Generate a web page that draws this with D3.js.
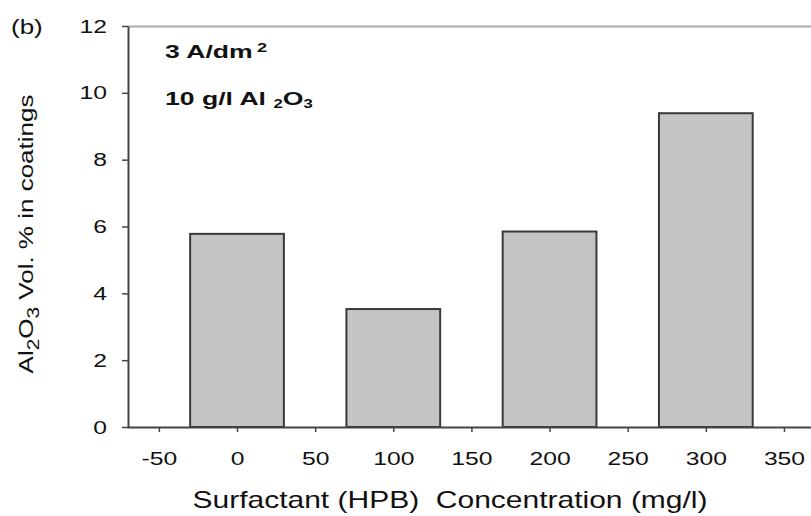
<!DOCTYPE html>
<html>
<head>
<meta charset="utf-8">
<script src="https://cdn.jsdelivr.net/npm/d3@7/dist/d3.min.js"></script>
<style>
  html, body { margin: 0; padding: 0; background: #fff; }
  svg { display: block; }
</style>
</head>
<body>
<div id="chart"></div>
<script>
  var concentrations = [0, 100, 200, 300];
  var volumePercent = [5.78, 3.53, 5.85, 9.39];
  var xTicks = [-50, 0, 50, 100, 150, 200, 250, 300, 350];
  var yTicks = [0, 2, 4, 6, 8, 10, 12];
  var barWidthUnits = 60;

  var width = 811;
  var height = 516;
  var margin = { top: 26, right: 0, bottom: 89, left: 128 };

  // the original figure's lettering is wide; stretch glyphs along the baseline
  var stretch = 1.3;
  var font = 'Liberation Sans, Arial, sans-serif';

  var x = d3.scaleLinear()
      .domain([-70.4, 367.3])
      .range([margin.left - 1, width - margin.right]);

  var y = d3.scaleLinear()
      .domain([0, 12])
      .range([height - margin.bottom, margin.top]);

  var svg = d3.select('#chart').append('svg')
      .attr('width', width)
      .attr('height', height);

  // top frame line (light gray)
  svg.append('line')
      .attr('x1', margin.left)
      .attr('x2', width)
      .attr('y1', y(12) + 0.5)
      .attr('y2', y(12) + 0.5)
      .style('stroke', '#aaa')
      .style('stroke-width', 2);

  // bars
  svg.append('g').selectAll('rect')
      .data(concentrations)
    .enter().append('rect')
      .attr('x', function (d) { return x(d - barWidthUnits / 2); })
      .attr('width', function (d) { return x(d + barWidthUnits / 2) - x(d - barWidthUnits / 2); })
      .attr('y', function (d, i) { return y(volumePercent[i]); })
      .attr('height', function (d, i) { return y(0) - y(volumePercent[i]); })
      .style('fill', '#c4c4c4')
      .style('stroke', '#3a3a3a')
      .style('stroke-width', 2);

  var xAxis = svg.append('g')
      .attr('transform', 'translate(0,' + y(0) + ')')
      .call(d3.axisBottom(x)
        .tickValues(xTicks)
        .tickFormat(function (d) { return String(d); })
        .tickSize(5)
        .tickSizeOuter(0));

  xAxis.select('path')
      .style('stroke', '#444')
      .style('stroke-width', 2);
  xAxis.selectAll('g line')
      .style('stroke', '#444')
      .style('stroke-width', 1.5);
  xAxis.selectAll('g text')
      .attr('y', null)
      .attr('dy', null)
      .attr('transform', 'translate(0,38) scale(' + stretch + ',1)')
      .style('font', '19px ' + font)
      .style('fill', '#111');

  var yAxis = svg.append('g')
      .attr('transform', 'translate(' + margin.left + ',0)')
      .call(d3.axisLeft(y).tickValues(yTicks).tickSize(6).tickSizeOuter(0));

  yAxis.select('path')
      .style('stroke', '#444')
      .style('stroke-width', 2);
  yAxis.selectAll('g line')
      .style('stroke', '#444')
      .style('stroke-width', 1.5);
  yAxis.selectAll('g text')
      .attr('x', null)
      .attr('transform', 'translate(-21,0) scale(' + stretch + ',1)')
      .style('font', '19px ' + font)
      .style('fill', '#111');

  // panel letter
  svg.append('text')
      .attr('transform', 'translate(11,34) scale(' + stretch + ',1)')
      .style('font', '20px ' + font)
      .style('fill', '#111')
      .text('(b)');

  // condition annotations
  var note1 = svg.append('text')
      .attr('transform', 'translate(165,58) scale(1.4,1)')
      .style('font', 'bold 19px ' + font)
      .style('fill', '#111');
  note1.append('tspan').text('3 A/dm');
  note1.append('tspan').attr('dx', 3).attr('dy', -6).style('font-size', '13px').text('2');

  var note2 = svg.append('text')
      .attr('transform', 'translate(165,105) scale(1.4,1)')
      .style('font', 'bold 19px ' + font)
      .style('fill', '#111');
  note2.append('tspan').text('10 g/l Al ');
  note2.append('tspan').attr('dy', 3).style('font-size', '12px').text('2');
  note2.append('tspan').attr('dy', -3).text('O');
  note2.append('tspan').attr('dy', 3).style('font-size', '12px').text('3');

  // x axis title
  svg.append('text')
      .attr('transform', 'translate(450,508) scale(1.25,1)')
      .attr('text-anchor', 'middle')
      .attr('xml:space', 'preserve')
      .style('font', '24px ' + font)
      .style('fill', '#111')
      .text('Surfactant (HPB)  Concentration (mg/l)');

  // y axis title
  var yTitle = svg.append('text')
      .attr('transform', 'translate(33,234) rotate(-90) scale(' + stretch + ',1)')
      .attr('text-anchor', 'middle')
      .style('font', '20px ' + font)
      .style('fill', '#111');
  yTitle.append('tspan').text('Al');
  yTitle.append('tspan').attr('dy', 6).style('font-size', '16px').text('2');
  yTitle.append('tspan').attr('dy', -6).text('O');
  yTitle.append('tspan').attr('dy', 6).style('font-size', '16px').text('3');
  yTitle.append('tspan').attr('dy', -6).text(' Vol. % in coatings');
</script>
</body>
</html>
